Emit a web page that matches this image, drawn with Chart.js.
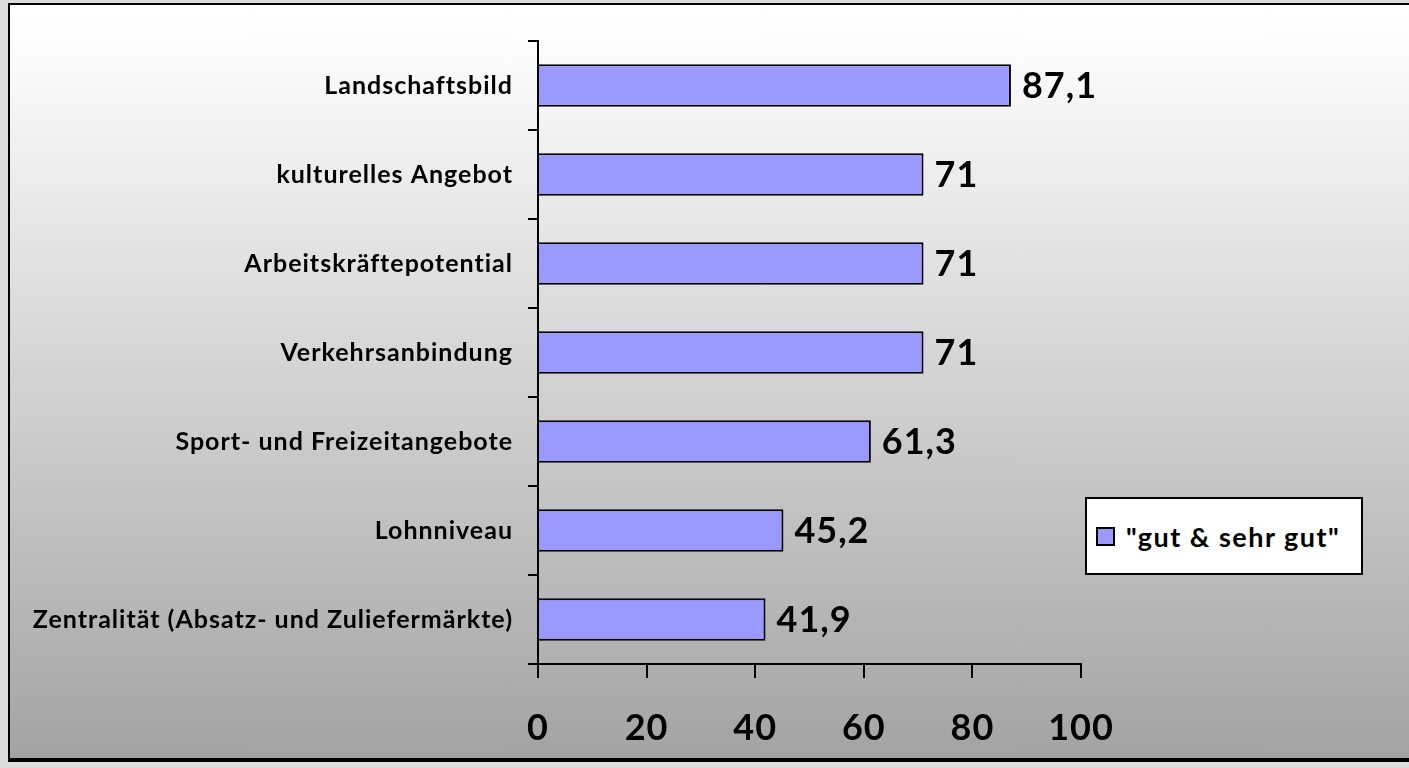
<!DOCTYPE html>
<html>
<head>
<meta charset="utf-8">
<script src="https://cdn.jsdelivr.net/npm/chart.js@4.4.1/dist/chart.umd.min.js"></script>
<style>
  html, body { margin: 0; padding: 0; background: #dcdcdc; overflow: hidden; }
  #frame {
    position: absolute; left: 8px; top: 3px; width: 1420px; height: 759px;
    box-sizing: border-box;
    border: 2px solid #000; border-bottom-width: 4px;
    background: linear-gradient(#ffffff 0%, #fafafa 8%, #a3a3a3 100%);
  }
  #wrap { position: absolute; left: 0; top: 0; width: 1409px; height: 768px; }
  #legend {
    position: absolute; left: 1085px; top: 497px; width: 278px; height: 78px;
    box-sizing: border-box; border: 2px solid #000; background: #fff;
    display: flex; align-items: center; justify-content: flex-start;
    padding-left: 9px;
    font: bold 27px Lato, sans-serif; letter-spacing: 1.5px; color: #000;
  }
  #legend span.box {
    display: inline-block; width: 15px; height: 15px; border: 2px solid #000;
    background: #9999ff; margin-right: 11px;
  }
</style>
</head>
<body>
<div id="frame"></div>
<div id="wrap"><canvas id="myChart" width="1409" height="768"></canvas></div>
<div id="legend"></div>
<script>
const categories = [
  "Landschaftsbild",
  "kulturelles Angebot",
  "Arbeitskräftepotential",
  "Verkehrsanbindung",
  "Sport- und Freizeitangebote",
  "Lohnniveau",
  "Zentralität (Absatz- und Zuliefermärkte)"
];
const seriesName = '"gut & sehr gut"';
const values = [87.1, 71, 71, 71, 61.3, 45.2, 41.9];
const xTicks = [0, 20, 40, 60, 80, 100];

const fmt = (v) => String(v).replace(".", ",");

// wider letters, like the original font
const spacing = {
  id: "spacing",
  beforeDraw(chart) { chart.ctx.letterSpacing = "1px"; },
  afterDraw(chart) { chart.ctx.letterSpacing = "0px"; }
};

const barLabels = {
  id: "barLabels",
  afterDatasetsDraw(chart) {
    const ctx = chart.ctx;
    const meta = chart.getDatasetMeta(0);
    ctx.save();
    ctx.font = "bold 36px Lato, sans-serif";
    ctx.letterSpacing = "1px";
    ctx.fillStyle = "#000";
    ctx.textAlign = "left";
    ctx.textBaseline = "middle";
    meta.data.forEach((bar, i) => {
      ctx.fillText(fmt(values[i]), bar.x + 11, bar.y + 1);
    });
    ctx.restore();
  }
};

const config = {
  type: "bar",
  data: {
    labels: categories,
    datasets: [
      {
        label: seriesName,
        data: values,
        backgroundColor: "#9999ff",
        borderColor: "#000",
        borderWidth: 2,
        categoryPercentage: 1,
        barPercentage: 0.48
      }
    ]
  },
  options: {
    indexAxis: "y",
    responsive: false,
    animation: false,
    layout: { padding: { left: 0, top: 41, right: 328, bottom: 0 } },
    plugins: {
      legend: { display: false },
      tooltip: { enabled: false }
    },
    scales: {
      x: {
        min: 0,
        max: 100,
        afterBuildTicks: (scale) => {
          scale.ticks = xTicks.map((v) => ({ value: v }));
        },
        afterFit: (scale) => { scale.height = 104; },
        grid: { drawOnChartArea: false, drawTicks: true, tickLength: 14, color: "#000", lineWidth: 2 },
        border: { display: true, color: "#000", width: 2 },
        ticks: {
          color: "#000",
          padding: 29,
          font: { family: "Lato", weight: "bold", size: 36 }
        }
      },
      y: {
        afterFit: (scale) => { scale.width = 538; },
        grid: { drawOnChartArea: false, drawTicks: true, tickLength: 10, color: "#000", lineWidth: 2 },
        border: { display: true, color: "#000", width: 2 },
        ticks: {
          color: "#000",
          padding: 15,
          font: { family: "Lato", weight: "bold", size: 25 }
        }
      }
    }
  },
  plugins: [spacing, barLabels]
};

const chart = new Chart(document.getElementById("myChart"), config);

const legend = document.getElementById("legend");
const box = document.createElement("span");
box.className = "box";
legend.appendChild(box);
legend.appendChild(document.createTextNode(chart.data.datasets[0].label));
</script>
</body>
</html>
